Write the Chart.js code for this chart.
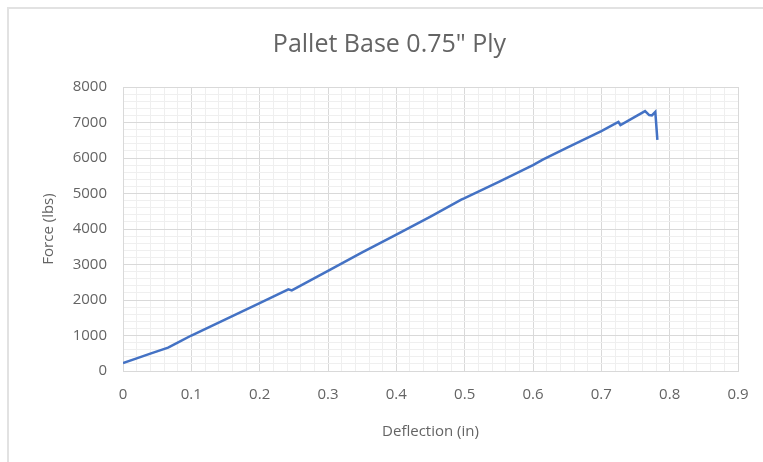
<!DOCTYPE html>
<html lang="en">
<head>
<meta charset="UTF-8">
<title>Pallet Base 0.75" Ply</title>
<script src="https://cdn.jsdelivr.net/npm/chart.js"></script>
<style>
  body { margin: 0; background: #fff; }
  #frame { position: absolute; left: 7px; top: 7px; width: 820px; height: 520px; border: 2px solid #e2e2e2; }
  #myChart { position: absolute; left: 0; top: 0; }
</style>
</head>
<body>
<div id="frame"></div>
<canvas id="myChart" width="763" height="462"></canvas>

<script>
// deflection (in) and force (lbs)
const deflection = [0, 0.02, 0.04, 0.066, 0.08, 0.1, 0.15, 0.2, 0.242, 0.247, 0.3, 0.35, 0.4, 0.45, 0.495, 0.5, 0.55, 0.6, 0.615, 0.65, 0.7, 0.725, 0.728, 0.764, 0.770, 0.774, 0.779, 0.782];
const force = [225, 355, 490, 660, 800, 1000, 1455, 1910, 2300, 2270, 2820, 3340, 3840, 4350, 4830, 4870, 5330, 5800, 5960, 6290, 6760, 7015, 6930, 7320, 7210, 7200, 7300, 6510];

const xTicks = [0, 0.1, 0.2, 0.3, 0.4, 0.5, 0.6, 0.7, 0.8, 0.9];
const yTicks = [0, 1000, 2000, 3000, 4000, 5000, 6000, 7000, 8000];

const points = deflection.map((d, i) => ({ x: d, y: force[i] }));

const txt = '#646464';
const font = '"Open Sans", Lato, sans-serif';

function xMajor(v) { return Math.round(v * 50) % 5 === 0; }
function yMajor(v) { return Math.round(v) % 1000 === 0; }

const ctx = document.getElementById('myChart').getContext('2d');
new Chart(ctx, {
  type: 'line',
  data: {
    datasets: [{
      data: points,
      borderColor: '#4472C4',
      borderWidth: 2.5,
      pointRadius: 0,
      tension: 0,
      fill: false
    }]
  },
  options: {
    responsive: false,
    animation: false,
    layout: { padding: { left: 16, right: 0, top: 0, bottom: 0 } },
    plugins: {
      legend: { display: false },
      tooltip: { enabled: false },
      title: {
        display: true,
        text: 'Pallet Base 0.75" Ply',
        color: txt,
        font: { family: font, size: 25, weight: 'normal' },
        padding: { top: 30, bottom: 27 }
      }
    },
    scales: {
      x: {
        type: 'linear',
        min: xTicks[0],
        max: xTicks[xTicks.length - 1],
        ticks: {
          stepSize: 0.02,
          autoSkip: false,
          maxRotation: 0,
          padding: 15,
          color: txt,
          font: { family: font, size: 15 },
          callback: v => xMajor(v) ? String(Math.round(v * 10) / 10) : ''
        },
        grid: {
          drawTicks: false,
          color: c => (c.tick && xMajor(c.tick.value)) ? '#d9d9d9' : '#efefef'
        },
        border: { color: '#d9d9d9' },
        title: {
          display: true,
          text: 'Deflection (in)',
          color: txt,
          font: { family: font, size: 15 },
          padding: { top: 0, bottom: 21 }
        },
        afterFit: s => { s.height = 91; s.paddingRight = 25; }
      },
      y: {
        min: yTicks[0],
        max: yTicks[yTicks.length - 1],
        ticks: {
          stepSize: 200,
          autoSkip: false,
          padding: 16,
          color: txt,
          font: { family: font, size: 15 },
          callback: v => yMajor(v) ? String(v) : ''
        },
        grid: {
          drawTicks: false,
          color: c => (c.tick && yMajor(c.tick.value)) ? '#d9d9d9' : '#efefef'
        },
        border: { color: '#d9d9d9' },
        title: {
          display: true,
          text: 'Force (lbs)',
          color: txt,
          font: { family: font, size: 15 },
          padding: { top: 24, bottom: 0 }
        },
        afterFit: s => { s.width = 107; }
      }
    }
  }
});
</script>
</body>
</html>
